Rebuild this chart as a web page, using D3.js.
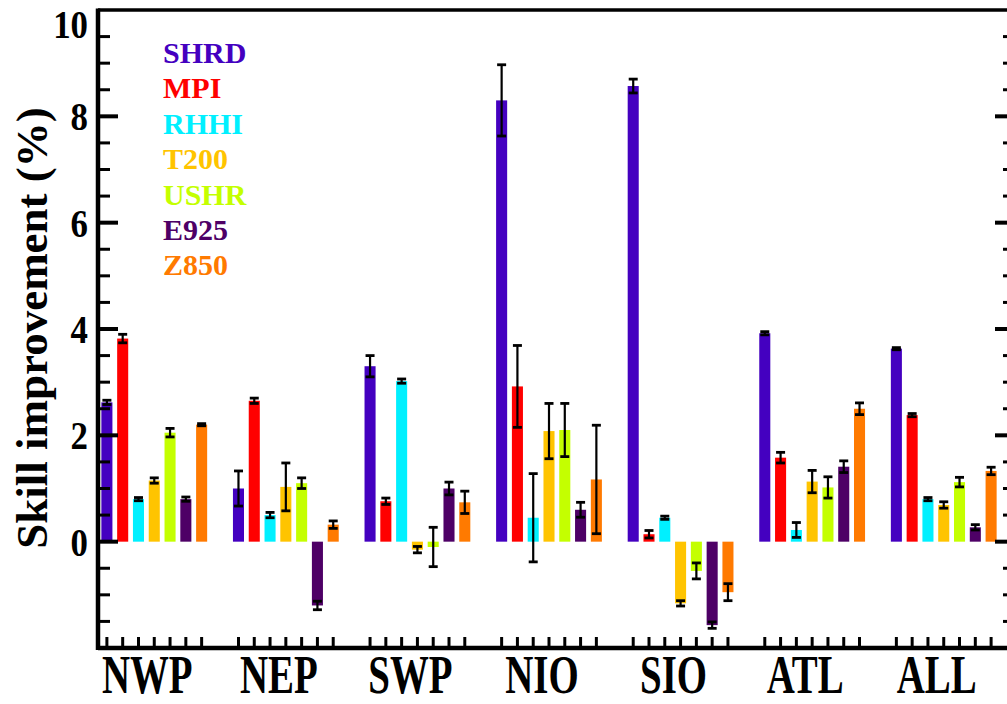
<!DOCTYPE html>
<html>
<head>
<meta charset="utf-8">
<script src="https://cdn.jsdelivr.net/npm/d3@7"></script>
<style>
  html, body { margin:0; padding:0; background:#fff; }
  svg { display:block; }
  text { font-family:"Liberation Serif","Times New Roman",serif; font-weight:bold; }
</style>
</head>
<body>
<div id="chart"></div>
<script>
// basins along the x axis
const regions = ["NWP","NEP","SWP","NIO","SIO","ATL","ALL"];
const series = ["SHRD","MPI","RHHI","T200","USHR","E925","Z850"];
const seriesColors = ["#4400c0","#ff0000","#00f0ff","#ffc400","#c4ff00","#4e0066","#ff7a00"];

// skill improvement (%) per series, one value per region
const shrd = [2.62, 1.00, 3.30, 8.30, 8.57, 3.92, 3.63];
const mpi  = [3.82, 2.65, 0.76, 2.92, 0.14, 1.58, 2.38];
const rhhi = [0.80, 0.50, 3.02, 0.45, 0.45, 0.22, 0.80];
const t200 = [1.15, 1.03, -0.15, 2.08, -1.16, 1.13, 0.69];
const ushr = [2.05, 1.10, -0.10, 2.10, -0.55, 1.02, 1.12];
const e925 = [0.80, -1.20, 1.00, 0.60, -1.57, 1.41, 0.27];
const z850 = [2.20, 0.32, 0.74, 1.17, -0.95, 2.50, 1.33];

// half-width of the error bars
const shrdErr = [0.04, 0.33, 0.20, 0.67, 0.13, 0.03, 0.02];
const mpiErr  = [0.08, 0.05, 0.06, 0.77, 0.07, 0.10, 0.03];
const rhhiErr = [0.03, 0.05, 0.04, 0.83, 0.03, 0.14, 0.03];
const t200Err = [0.05, 0.45, 0.06, 0.52, 0.05, 0.21, 0.06];
const ushrErr = [0.08, 0.10, 0.37, 0.50, 0.15, 0.20, 0.09];
const e925Err = [0.04, 0.08, 0.12, 0.14, 0.06, 0.11, 0.05];
const z850Err = [0.02, 0.07, 0.21, 1.02, 0.16, 0.11, 0.07];

const yTicks = [-2, 0, 2, 4, 6, 8, 10];

const values = [shrd, mpi, rhhi, t200, ushr, e925, z850];
const errors = [shrdErr, mpiErr, rhhiErr, t200Err, ushrErr, e925Err, z850Err];

const W = 1007, H = 704;
const pLeft = 98, pRight = 1015, pTop = 10, pBottom = 648;

const svg = d3.select("#chart").append("svg").attr("width", W).attr("height", H);

const y = d3.scaleLinear().domain([-2, 10]).range([pBottom, pTop]);
const gx = d3.scaleBand().domain(regions).range([pLeft + 1, 999]).paddingInner(0.16);
const bx = d3.scaleBand().domain(series).range([0, gx.bandwidth()]).paddingInner(0.3).paddingOuter(0.15);

const rows = [];
regions.forEach((r, ri) => series.forEach((s, si) => {
    rows.push({ region:r, key:s, color:seriesColors[si], value:values[si][ri], err:errors[si][ri] });
}));
const cx = d => gx(d.region) + bx(d.key) + bx.bandwidth()/2;

// bars
svg.append("g").selectAll("rect").data(rows).join("rect")
    .attr("x", d => gx(d.region) + bx(d.key))
    .attr("width", bx.bandwidth())
    .attr("y", d => y(Math.max(0, d.value)))
    .attr("height", d => Math.abs(y(d.value) - y(0)))
    .attr("fill", d => d.color);

// error bars
const eb = svg.append("g").attr("stroke", "#000").attr("stroke-width", 2.2);
rows.forEach(d => {
    const x = cx(d), y1 = y(d.value - d.err), y2 = y(d.value + d.err);
    eb.append("line").attr("x1", x).attr("x2", x).attr("y1", y1).attr("y2", y2);
    eb.append("line").attr("x1", x-4.5).attr("x2", x+4.5).attr("y1", y1).attr("y2", y1).attr("stroke-width", 2.8);
    eb.append("line").attr("x1", x-4.5).attr("x2", x+4.5).attr("y1", y2).attr("y2", y2).attr("stroke-width", 2.8);
});

// frame
const frame = svg.append("g").attr("stroke", "#000").attr("fill", "none");
frame.append("line").attr("x1", pLeft).attr("x2", pRight).attr("y1", pTop).attr("y2", pTop).attr("stroke-width", 3.5);
frame.append("line").attr("x1", pLeft).attr("x2", pRight).attr("y1", pBottom).attr("y2", pBottom).attr("stroke-width", 4.5);
frame.append("line").attr("x1", pLeft).attr("x2", pLeft).attr("y1", pTop-1.5).attr("y2", pBottom+2).attr("stroke-width", 4.5);
frame.append("line").attr("x1", pRight).attr("x2", pRight).attr("y1", pTop-1.5).attr("y2", pBottom+2).attr("stroke-width", 4.5);

// y ticks, left and right
const minor = d3.range(-2, 10.01, 0.5).filter(v => !yTicks.includes(v));
const tk = svg.append("g").attr("stroke", "#000");
[[pLeft, 1], [pRight, -1]].forEach(([x0, dir]) => {
    yTicks.filter(v => v > -2 && v < 10).forEach(v => tk.append("line")
        .attr("x1", x0).attr("x2", x0 + dir*20).attr("y1", y(v)).attr("y2", y(v)).attr("stroke-width", 4));
    minor.forEach(v => tk.append("line")
        .attr("x1", x0).attr("x2", x0 + dir*12).attr("y1", y(v)).attr("y2", y(v)).attr("stroke-width", 3));
});

// x ticks at every bar
rows.forEach(d => tk.append("line")
    .attr("x1", cx(d)).attr("x2", cx(d)).attr("y1", pBottom).attr("y2", pBottom-11).attr("stroke-width", 3));

// y tick labels
svg.append("g").selectAll("text").data(yTicks.filter(v => v >= 0)).join("text")
    .attr("transform", d => `translate(88,${Math.max(y(d), 24) + 14}) scale(0.85,1)`)
    .attr("text-anchor", "end")
    .style("font-size", "41px")
    .text(d => d);

// region labels
svg.append("g").selectAll("text").data(regions).join("text")
    .attr("transform", d => `translate(${gx(d) + gx.bandwidth()/2 - 7},693) scale(0.72,1)`)
    .attr("text-anchor", "middle")
    .style("font-size", "54px")
    .text(d => d);

// y axis title
svg.append("text")
    .attr("transform", "translate(47,328) rotate(-90)")
    .attr("text-anchor", "middle")
    .style("font-size", "45px")
    .text("Skill improvement (%)");

// legend
svg.append("g").selectAll("text").data(series).join("text")
    .attr("x", 163)
    .attr("y", (d, i) => 63 + i*35.4)
    .attr("fill", (d, i) => seriesColors[i])
    .style("font-size", "30px")
    .text(d => d);
</script>
</body>
</html>
